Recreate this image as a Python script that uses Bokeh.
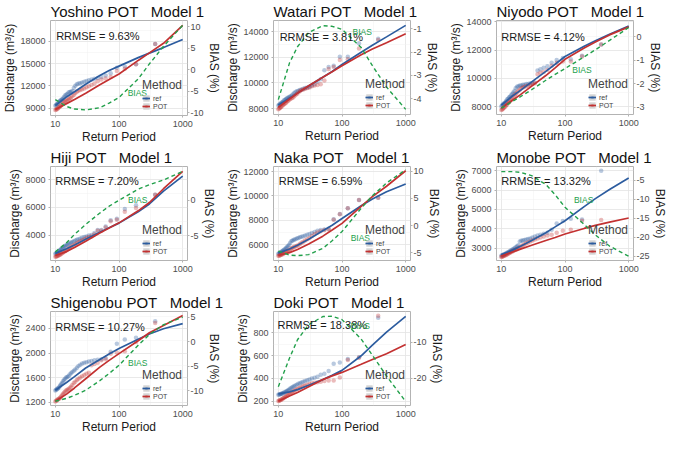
from bokeh.plotting import figure
from bokeh.layouts import gridplot
from bokeh.models import (Range1d, LinearAxis, FixedTicker, CustomJSTickFormatter,
                          Label, Legend, LegendItem)
from bokeh.embed import file_html
from bokeh.resources import INLINE

FONT = "Liberation Sans"
BLUE = "#2C5C9F"
RED = "#C33131"
GREEN = "#22A04B"

# ---------------- data ----------------
T_curve = [10, 15, 20, 30, 50, 70, 100, 200, 300, 500, 1000]
T_pts = [370, 185, 123.3, 92.5, 74, 61.7, 52.9, 46.3, 41.1, 37, 33.6, 30.8, 28.5,
         26.4, 24.7, 23.1, 21.8, 20.6, 19.5, 18.5, 17.6, 16.8, 16.1, 15.4, 14.8,
         14.2, 13.7, 13.2, 12.8, 12.3, 11.9, 11.6, 11.2, 10.9, 10.6, 10.3, 10.0]
x_ticks = [10, 100, 1000]

stations = ["Yoshino", "Watari", "Niyodo", "Hiji", "Naka", "Monobe", "Shigenobu", "Doki"]
rrmse = ["9.63%", "3.81%", "4.12%", "7.20%", "6.59%", "13.32%", "10.27%", "18.38%"]

yoshino_ref_fit = [9350, 10500, 11200, 12200, 13400, 14050, 14650, 15800, 16400, 17150, 18250]
yoshino_pot_fit = [8810, 9600, 10150, 11000, 12150, 12850, 13600, 15420, 16440, 17730, 20150]
yoshino_bias = [-6.9, -8.5, -9.1, -9.3, -8.8, -7.7, -6.4, -2.1, 1.4, 5.5, 10.4]
yoshino_ref_pts = [17650, 14900, 14600, 14450, 13700, 13400, 13200, 13050, 12950, 12850, 12750,
                   12650, 12550, 12450, 12350, 12300, 12200, 12000, 11700, 11300, 11200, 11150,
                   11100, 10900, 10800, 10700, 10500, 10300, 10200, 10100, 10000, 9900, 9800,
                   9600, 9500, 9400, 9300]
yoshino_pot_pts = [17650, 14900, 14300, 14000, 13200, 13000, 12850, 12600, 12300, 12100, 11950,
                   11800, 11650, 11550, 11450, 11350, 11200, 11000, 10800, 10600, 10400, 10300,
                   10200, 10100, 10000, 9900, 9800, 9650, 9500, 9350, 9250, 9150, 9050, 8950,
                   8850, 8800, 8750]
yoshino_yticks = [9000, 12000, 15000, 18000]
yoshino_bticks = [-10, -5, 0, 5, 10]

watari_ref_fit = [8270, 8820, 9210, 9760, 10450, 10900, 11450, 12400, 12950, 13600, 14500]
watari_pot_fit = [8110, 8750, 9200, 9780, 10450, 10880, 11350, 12200, 12650, 13150, 13840]
watari_bias = [-4.04, -2.46, -1.77, -1.16, -0.86, -0.89, -1.02, -1.8, -2.58, -3.5, -4.46]
watari_ref_pts = [13450, 13100, 12050, 12050, 11350, 11250, 11000, 10300, 10100, 9900, 9800,
                  9700, 9650, 9600, 9550, 9500, 9450, 9400, 9350, 9300, 9200, 9100, 9000,
                  8950, 8900, 8850, 8800, 8750, 8700, 8650, 8550, 8500, 8450, 8400, 8350,
                  8300, 8250]
watari_pot_pts = [13350, 12700, 11850, 11800, 11250, 11100, 10200, 9900, 9850, 9800, 9750,
                  9650, 9600, 9550, 9500, 9450, 9350, 9250, 9150, 9050, 8950, 8850, 8800,
                  8750, 8700, 8600, 8550, 8450, 8400, 8350, 8300, 8250, 8150, 8100, 8050,
                  8000, 7950]
watari_yticks = [8000, 10000, 12000, 14000]
watari_bticks = [-4, -3, -2, -1]

niyodo_ref_fit = [8100, 8750, 9150, 9750, 10500, 11000, 11550, 12270, 12660, 13130, 13700]
niyodo_pot_fit = [7900, 8450, 8850, 9450, 10200, 10750, 11350, 12150, 12570, 13080, 13650]
niyodo_bias = [-3.04, -2.75, -2.55, -2.25, -1.85, -1.6, -1.35, -0.85, -0.55, -0.15, 0.4]
niyodo_ref_pts = [12400, 11600, 11350, 11450, 11300, 11100, 10850, 10750, 10650, 10550, 9700,
                  9650, 9650, 9600, 9600, 9550, 9550, 9500, 9500, 9450, 9400, 9300, 9100,
                  9000, 8900, 8800, 8700, 8650, 8550, 8500, 8400, 8300, 8250, 8200, 8150,
                  8100, 8000]
niyodo_pot_pts = [12400, 11550, 11200, 11200, 11100, 10900, 10600, 10450, 10400, 10300, 9650,
                  9600, 9550, 9500, 9450, 9400, 9350, 9300, 9200, 9100, 9000, 8900, 8800,
                  8700, 8600, 8500, 8400, 8300, 8250, 8150, 8100, 8000, 7950, 7900, 7850,
                  7800, 7750]
niyodo_yticks = [8000, 10000, 12000, 14000]
niyodo_bticks = [-3, -2, -1, 0]

hiji_ref_fit = [2670, 3000, 3280, 3700, 4200, 4520, 4860, 5680, 6250, 7180, 8260]
hiji_pot_fit = [2520, 2800, 3100, 3550, 4150, 4500, 4880, 5750, 6350, 7350, 8610]
hiji_bias = [-7.3, -6.0, -4.84, -3.42, -1.82, -0.85, 0.0, 1.55, 2.2, 2.85, 4.08]
hiji_ref_pts = [6910, 6150, 5890, 5170, 5070, 4615, 4370, 4370, 4140, 4000, 3960, 3900, 3850,
                3800, 3750, 3700, 3650, 3600, 3550, 3500, 3450, 3400, 3350, 3300, 3250, 3200,
                3150, 3100, 3050, 2980, 2920, 2860, 2800, 2760, 2720, 2680, 2640]
hiji_pot_pts = [6910, 5950, 5680, 5100, 5000, 4550, 4300, 4300, 4050, 3900, 3850, 3780, 3700,
                3620, 3550, 3480, 3400, 3330, 3260, 3200, 3130, 3060, 3000, 2940, 2880, 2830,
                2780, 2730, 2680, 2630, 2590, 2550, 2520, 2490, 2460, 2440, 2420]
hiji_yticks = [4000, 6000, 8000]
hiji_bticks = [-5, 0]

naka_ref_fit = [5310, 5650, 5950, 6450, 7150, 7600, 8150, 9200, 9750, 10350, 10980]
naka_pot_fit = [5120, 5350, 5600, 6050, 6700, 7200, 7750, 9150, 9950, 10800, 12070]
naka_bias = [-4.7, -5.45, -5.55, -5.35, -4.2, -2.8, -1.1, 3.2, 5.5, 7.85, 10.3]
naka_ref_pts = [9860, 9670, 8990, 8510, 8090, 7300, 7250, 7200, 7150, 7050, 6950, 6880, 6820,
                6760, 6700, 6650, 6600, 6550, 6500, 6450, 6400, 6350, 6300, 6150, 6000, 5900,
                5800, 5720, 5650, 5580, 5520, 5470, 5420, 5380, 5340, 5300, 5260]
naka_pot_pts = [9860, 9670, 8990, 8500, 8050, 7250, 7200, 7100, 7000, 6850, 6700, 6550, 6450,
                6350, 6250, 6150, 6050, 5950, 5900, 5850, 5800, 5750, 5700, 5600, 5550, 5500,
                5450, 5400, 5350, 5300, 5250, 5220, 5190, 5160, 5130, 5100, 5080]
naka_yticks = [6000, 8000, 10000, 12000]
naka_bticks = [-5, 0, 5, 10]

monobe_ref_fit = [2660, 2900, 3100, 3400, 3800, 4100, 4420, 5150, 5560, 6030, 6630]
monobe_pot_fit = [2600, 2800, 2950, 3150, 3400, 3550, 3730, 4020, 4180, 4350, 4560]
monobe_bias = [-2.74, -2.74, -2.9, -3.8, -6.1, -8.8, -12.1, -16.6, -19.4, -22.3, -25.0]
monobe_ref_pts = [7000, 4480, 4520, 4400, 4280, 3950, 3800, 3750, 3700, 3650, 3600, 3550, 3500,
                  3480, 3450, 3420, 3400, 3380, 3350, 3150, 3100, 3050, 3000, 2960, 2920, 2880,
                  2850, 2820, 2790, 2760, 2730, 2710, 2690, 2670, 2650, 2630, 2610]
monobe_pot_pts = [4450, 4420, 3950, 3900, 3800, 3700, 3650, 3600, 3550, 3500, 3450, 3400, 3350,
                  3300, 3250, 3200, 3150, 3100, 3050, 3000, 2950, 2920, 2890, 2860, 2830, 2800,
                  2770, 2740, 2710, 2680, 2660, 2640, 2620, 2600, 2580, 2560, 2540]
monobe_yticks = [3000, 4000, 5000, 6000, 7000]
monobe_bticks = [-25, -20, -15, -10, -5]

shigenobu_ref_fit = [1392, 1520, 1615, 1755, 1895, 1985, 2075, 2225, 2310, 2395, 2480]
shigenobu_pot_fit = [1214, 1330, 1430, 1580, 1770, 1880, 1990, 2200, 2330, 2450, 2610]
shigenobu_bias = [-12.1, -11.5, -10.9, -9.85, -7.9, -6.46, -4.8, -0.72, 1.46, 3.45, 5.0]
shigenobu_ref_pts = [2520, 2250, 2220, 2150, 2020, 1920, 1900, 1890, 1880, 1870, 1860, 1850,
                     1840, 1830, 1810, 1790, 1760, 1730, 1710, 1690, 1670, 1650, 1620, 1610,
                     1600, 1580, 1560, 1540, 1510, 1490, 1470, 1450, 1430, 1420, 1410, 1400, 1390]
shigenobu_pot_pts = [2490, 2180, 2030, 2010, 1990, 1900, 1880, 1840, 1820, 1800, 1680, 1660,
                     1640, 1620, 1600, 1580, 1560, 1530, 1510, 1480, 1450, 1430, 1410, 1400,
                     1390, 1370, 1350, 1330, 1310, 1290, 1270, 1260, 1250, 1240, 1230, 1220, 1210]
shigenobu_yticks = [1200, 1600, 2000, 2400]
shigenobu_bticks = [-10, -5, 0, 5]

doki_ref_fit = [263, 281, 301, 339, 389, 427, 470, 598, 691, 805, 943]
doki_pot_fit = [200, 245, 276, 326, 389, 422, 452, 523, 565, 616, 696]
doki_bias = [-22.4, -14.4, -9.3, -5.1, -2.85, -2.75, -3.7, -9.1, -13.6, -19.4, -26.5]
doki_ref_pts = [931, 585, 570, 540, 528, 465, 440, 432, 414, 405, 398, 390, 383, 376, 370, 364,
                358, 352, 345, 338, 331, 324, 317, 310, 303, 296, 290, 284, 279, 275, 271, 268,
                265, 262, 260, 258, 256]
doki_pot_pts = [948, 580, 560, 407, 381, 381, 376, 371, 366, 362, 356, 350, 344, 338, 332, 325,
                318, 311, 304, 297, 290, 283, 276, 269, 262, 255, 248, 242, 236, 230, 225, 220,
                215, 211, 207, 204, 201]
doki_yticks = [200, 400, 600, 800]
doki_bticks = [-20, -10]

# ---------------- layout (positions / ranges) ----------------
layout = {
    "Yoshino":   dict(ylim=(8000, 20800), blim=(-10.6, 11.5), rr=(10.3, 18690), bl=(194, -5.43)),
    "Watari":    dict(ylim=(7540, 14880), blim=(-4.68, -0.64), rr=(10.5, 13600), bl=(208, -1.12)),
    "Niyodo":    dict(ylim=(7440, 14100), blim=(-3.31, 0.70), rr=(10.0, 12900), bl=(185, -1.43)),
    "Hiji":      dict(ylim=(2155, 8960), blim=(-8.52, 4.76), rr=(10.0, 7936), bl=(197, 0.0)),
    "Naka":      dict(ylim=(4700, 12420), blim=(-6.44, 10.9), rr=(10.2, 11240), bl=(194, -2.2)),
    "Monobe":    dict(ylim=(2364, 7220), blim=(-26.1, -1.38), rr=(10.0, 6450), bl=(196, -10.06)),
    "Shigenobu": dict(ylim=(1144, 2677), blim=(-12.96, 6.13), rr=(10.0, 2424), bl=(197, -4.38)),
    "Doki":      dict(ylim=(162, 986), blim=(-27.6, -1.44), rr=(9.7, 868), bl=(193, -5.44)),
}

series = {
    "Yoshino": (yoshino_ref_fit, yoshino_pot_fit, yoshino_bias, yoshino_ref_pts, yoshino_pot_pts, yoshino_yticks, yoshino_bticks),
    "Watari": (watari_ref_fit, watari_pot_fit, watari_bias, watari_ref_pts, watari_pot_pts, watari_yticks, watari_bticks),
    "Niyodo": (niyodo_ref_fit, niyodo_pot_fit, niyodo_bias, niyodo_ref_pts, niyodo_pot_pts, niyodo_yticks, niyodo_bticks),
    "Hiji": (hiji_ref_fit, hiji_pot_fit, hiji_bias, hiji_ref_pts, hiji_pot_pts, hiji_yticks, hiji_bticks),
    "Naka": (naka_ref_fit, naka_pot_fit, naka_bias, naka_ref_pts, naka_pot_pts, naka_yticks, naka_bticks),
    "Monobe": (monobe_ref_fit, monobe_pot_fit, monobe_bias, monobe_ref_pts, monobe_pot_pts, monobe_yticks, monobe_bticks),
    "Shigenobu": (shigenobu_ref_fit, shigenobu_pot_fit, shigenobu_bias, shigenobu_ref_pts, shigenobu_pot_pts, shigenobu_yticks, shigenobu_bticks),
    "Doki": (doki_ref_fit, doki_pot_fit, doki_bias, doki_ref_pts, doki_pot_pts, doki_yticks, doki_bticks),
}

FMT = "return String(tick);"


def style_axis(ax):
    ax.axis_line_color = None
    ax.major_tick_line_color = "#b3b3b3"
    ax.major_tick_out = 2
    ax.major_tick_in = 0
    ax.minor_tick_line_color = None
    ax.major_label_text_font = FONT
    ax.major_label_text_font_size = "9px"
    ax.major_label_text_color = "#4d4d4d"
    ax.axis_label_text_font = FONT
    ax.axis_label_text_font_size = "12px"
    ax.axis_label_text_font_style = "normal"
    ax.axis_label_text_color = "#1a1a1a"
    ax.major_label_standoff = 1
    ax.axis_label_standoff = 0
    ax.formatter = CustomJSTickFormatter(code=FMT)


def make_panel(name, rr_text, height):
    ref_fit, pot_fit, bias, ref_pts, pot_pts, yticks, bticks = series[name]
    L = layout[name]
    p = figure(width=223, height=height, x_axis_type="log",
               x_range=Range1d(8.4, 1190), y_range=Range1d(*L["ylim"]),
               output_backend="svg", toolbar_location=None,
               min_border_left=36, min_border_right=24, min_border_top=0,
               min_border_bottom=22, title=name + " POT\u00a0\u00a0 Model 1")
    p.extra_y_ranges = {"bias": Range1d(*L["blim"])}
    p.title.text_font = FONT
    p.title.text_font_size = "15px"
    p.title.text_font_style = "normal"
    p.title.text_color = "#111111"
    p.title.align = "left"
    p.title.standoff = 1
    p.outline_line_color = "#b3b3b3"
    p.outline_line_width = 1
    p.background_fill_color = "white"

    xt = FixedTicker(ticks=x_ticks, minor_ticks=[31.62, 316.2])
    p.xaxis.ticker = xt
    p.xgrid.ticker = xt
    step = yticks[1] - yticks[0] if len(yticks) > 1 else 1
    yminor = [t - step / 2 for t in yticks] + [yticks[-1] + step / 2]
    yt = FixedTicker(ticks=yticks, minor_ticks=yminor)
    p.yaxis.ticker = yt
    p.ygrid.ticker = yt
    for g in (p.xgrid, p.ygrid):
        g.grid_line_color = "#e3e3e3"
        g.grid_line_width = 0.8
        g.minor_grid_line_color = "#f0f0f0"
        g.minor_grid_line_width = 0.5

    style_axis(p.xaxis[0])
    style_axis(p.yaxis[0])
    p.xaxis[0].axis_label = "Return Period"
    p.yaxis[0].axis_label = "Discharge (m³/s)"

    rax = LinearAxis(y_range_name="bias", axis_label="BIAS (%)",
                     ticker=FixedTicker(ticks=bticks))
    style_axis(rax)
    p.add_layout(rax, "right")

    # zero-area boxes: invisible in the panel, give the grey legend key background
    key_bg = p.quad(left=T_pts, right=T_pts, bottom=ref_pts, top=ref_pts,
                    fill_color="#d4d4d4", line_color=None)
    ref_sc = p.scatter(T_pts, ref_pts, size=4.5, fill_color=BLUE, line_color=None, fill_alpha=0.33)
    pot_sc = p.scatter(T_pts, pot_pts, size=4.5, fill_color=RED, line_color=None, fill_alpha=0.33)
    ref_ln = p.line(T_curve, ref_fit, line_color=BLUE, line_width=1.7)
    pot_ln = p.line(T_curve, pot_fit, line_color=RED, line_width=1.7)
    p.line(T_curve, bias, y_range_name="bias", line_color=GREEN, line_width=1.4, line_dash="4 3")

    p.add_layout(Label(x=L["rr"][0], y=L["rr"][1], text="RRMSE = " + rr_text,
                       text_font=FONT, text_font_size="11px", text_color="#1a1a1a",
                       text_align="left", text_baseline="middle"))
    p.add_layout(Label(x=L["bl"][0], y=L["bl"][1], y_range_name="bias", text="BIAS",
                       text_font=FONT, text_font_size="8.5px", text_color=GREEN,
                       text_align="center", text_baseline="middle"))

    leg = Legend(items=[LegendItem(label="ref", renderers=[key_bg, ref_ln, ref_sc]),
                        LegendItem(label="POT", renderers=[key_bg, pot_ln, pot_sc])],
                 location="bottom_right", title="Method")
    leg.title_text_font = FONT
    leg.title_text_font_size = "12px"
    leg.title_text_font_style = "normal"
    leg.title_standoff = 2
    leg.label_text_font = FONT
    leg.label_text_font_size = "7px"
    leg.label_height = 7
    leg.glyph_height = 8
    leg.glyph_width = 8
    leg.label_standoff = 3
    leg.spacing = 0
    leg.padding = 2
    leg.margin = 3
    leg.background_fill_alpha = 0
    leg.border_line_alpha = 0
    p.add_layout(leg)
    return p


heights = [146, 145, 145, 145, 145, 145, 145, 145]
panels = [make_panel(n, r, h) for n, r, h in zip(stations, rrmse, heights)]
grid = gridplot([[panels[0], panels[1], panels[2]],
                 [panels[3], panels[4], panels[5]],
                 [panels[6], panels[7], None]], toolbar_location=None)

open("out.html", "w").write(file_html(grid, INLINE))
